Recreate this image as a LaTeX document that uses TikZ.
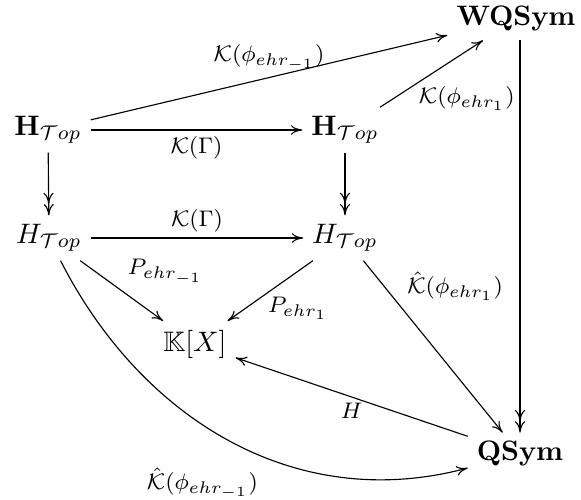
\documentclass[tikz,border=0pt]{standalone}
\usepackage{amssymb}
\usetikzlibrary{arrows.meta}
\begin{document}
\begin{tikzpicture}[x=0.355pt,y=0.355pt,
  obj/.style={inner sep=3pt},
  lab/.style={font=\footnotesize, inner sep=2pt},
  arr/.style={-{Computer Modern Rightarrow[length=4pt,width=3.4pt]}},
  darr/.style={-{Computer Modern Rightarrow[length=4pt,width=3.6pt]Computer Modern Rightarrow[length=4pt,width=3.6pt]}}]
\useasboundingbox (0,0) rectangle (581,499);
\node[obj] (H1) at (48,369) {$\mathbf{H}_{\mathcal{T}op}$};
\node[obj] (H2) at (345,369) {$\mathbf{H}_{\mathcal{T}op}$};
\node[obj] (W) at (516,480) {$\mathbf{WQSym}$};
\node[obj] (H3) at (49,261) {$H_{\mathcal{T}op}$};
\node[obj] (H4) at (345,261) {$H_{\mathcal{T}op}$};
\node[obj] (KX) at (195,155) {$\mathbb{K}[X]$};
\node[obj] (Q) at (520,45) {$\mathbf{QSym}$};
\draw[arr] (H1) -- node[lab,above]{$\mathcal{K}(\phi_{ehr_{-1}})$} (W);
\draw[arr] (H1) -- node[lab,below]{$\mathcal{K}(\Gamma)$} (H2);
\draw[arr] (H2) -- node[lab,pos=0.4,anchor=north west,xshift=-3pt]{$\mathcal{K}(\phi_{ehr_1})$} (W);
\draw[darr] (H1) -- (H3);
\draw[darr] (H2) -- (H4);
\draw[darr] (W.south -| Q.north) -- (Q.north);
\draw[arr] (H3) -- node[lab,above]{$\mathcal{K}(\Gamma)$} (H4);
\draw[arr] (H3) -- node[lab,above right]{$P_{ehr_{-1}}$} (KX);
\draw[arr] (H4) -- node[lab,below right,xshift=-3pt]{$P_{ehr_1}$} (KX);
\draw[arr] (H4) -- node[lab,pos=0.15,right=6pt]{$\hat{\mathcal{K}}(\phi_{ehr_1})$} (Q);
\draw[arr] (Q) -- node[lab,below]{$H$} (KX);
\draw[arr] (H3) to[out=-63,in=195] node[lab,pos=0.55,anchor=north east,xshift=4.5pt,yshift=-3.5pt]{$\hat{\mathcal{K}}(\phi_{ehr_{-1}})$} (Q);
\end{tikzpicture}
\end{document}
